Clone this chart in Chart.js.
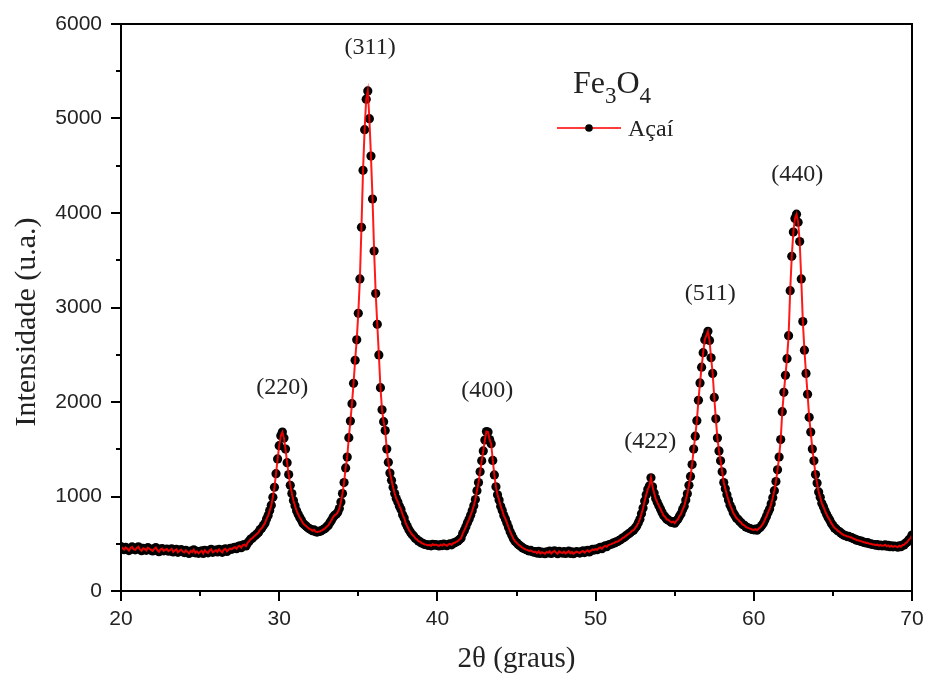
<!DOCTYPE html>
<html>
<head>
<meta charset="utf-8">
<script src="https://cdn.jsdelivr.net/npm/chart.js@4/dist/chart.umd.min.js"></script>
<style>
  body { margin: 0; background: #fff; }
  canvas { display: block; }
</style>
</head>
<body>
<canvas id="xrdChart" width="925" height="675"></canvas>
<script>
// 2theta scan: 20.0 .. 70.0, step 0.1 deg
const angleStart = 20;
const angleStep = 0.1;

// Intensity (u.a.), one row per degree (x.0 .. x.9)
const intensity = [
  470, 452, 438, 461, 447, 428, 455, 466, 442, 436, // 20
  455, 468, 440, 426, 452, 445, 430, 458, 447, 435, // 21
  424, 446, 460, 431, 416, 441, 450, 425, 437, 444, // 22
  421, 433, 447, 414, 429, 441, 409, 426, 438, 417, // 23
  407, 431, 414, 397, 423, 411, 436, 404, 419, 399, // 24
  413, 426, 397, 431, 414, 404, 429, 441, 409, 419, // 25
  433, 414, 441, 424, 409, 439, 446, 419, 436, 451, // 26
  441, 456, 463, 447, 471, 479, 459, 486, 491, 476, // 27
  509, 527, 549, 558, 577, 590, 606, 623, 650, 666, // 28
  692, 718, 762, 798, 852, 908, 992, 1098, 1242, 1398, // 29
  1538, 1642, 1682, 1618, 1502, 1358, 1232, 1118, 1032, 958, // 30
  902, 848, 812, 778, 752, 718, 702, 688, 672, 658, // 31
  652, 638, 647, 628, 624, 630, 633, 642, 653, 662, // 32
  681, 694, 722, 748, 779, 801, 812, 834, 872, 941, // 33
  1032, 1148, 1302, 1418, 1622, 1798, 1982, 2198, 2442, 2658, // 34
  2938, 3302, 3848, 4452, 4882, 5204, 5292, 4998, 4602, 4148, // 35
  3598, 3148, 2822, 2498, 2152, 1918, 1792, 1698, 1502, 1362, // 36
  1248, 1172, 1098, 1032, 978, 942, 898, 862, 808, 772, // 37
  718, 682, 648, 622, 598, 582, 558, 547, 528, 522, // 38
  508, 502, 493, 491, 483, 489, 478, 494, 485, 491, // 39
  484, 477, 491, 481, 496, 487, 479, 493, 499, 489, // 40
  506, 511, 521, 529, 546, 561, 608, 641, 679, 721, // 41
  758, 802, 848, 902, 968, 1062, 1148, 1262, 1378, 1482, // 42
  1598, 1688, 1682, 1602, 1558, 1382, 1228, 1102, 1018, 962, // 43
  898, 852, 798, 762, 718, 672, 628, 592, 556, 528, // 44
  512, 494, 482, 468, 456, 447, 438, 433, 424, 429, // 45
  419, 411, 416, 401, 419, 397, 411, 404, 394, 413, // 46
  404, 421, 397, 413, 426, 407, 394, 419, 409, 401, // 47
  416, 397, 409, 421, 399, 413, 394, 406, 417, 409, // 48
  401, 416, 424, 407, 421, 431, 414, 427, 441, 433, // 49
  444, 437, 453, 461, 447, 466, 477, 469, 486, 491, // 50
  496, 506, 509, 521, 524, 536, 544, 561, 567, 581, // 51
  594, 606, 619, 636, 644, 666, 689, 721, 759, 818, // 52
  878, 952, 1018, 1078, 1112, 1198, 1102, 1038, 978, 938, // 53
  902, 868, 832, 798, 782, 758, 752, 738, 726, 734, // 54
  718, 742, 758, 792, 818, 862, 898, 962, 1028, 1118, // 55
  1212, 1338, 1502, 1638, 1802, 2018, 2202, 2368, 2522, 2658, // 56
  2702, 2748, 2652, 2468, 2302, 2048, 1822, 1618, 1482, 1378, // 57
  1262, 1148, 1082, 1018, 962, 908, 872, 828, 802, 772, // 58
  758, 738, 722, 703, 696, 678, 671, 663, 658, 651, // 59
  647, 654, 643, 661, 671, 692, 718, 752, 788, 832, // 60
  868, 922, 988, 1062, 1158, 1282, 1418, 1602, 1898, 2102, // 61
  2282, 2458, 2702, 3178, 3542, 3798, 3942, 3988, 3902, 3698, // 62
  3302, 2852, 2548, 2302, 2082, 1838, 1682, 1502, 1378, 1232, // 63
  1142, 1048, 992, 928, 892, 848, 812, 778, 752, 718, // 64
  692, 668, 657, 638, 629, 613, 602, 590, 587, 576, // 65
  577, 568, 564, 553, 549, 538, 537, 528, 527, 518, // 66
  516, 508, 511, 500, 499, 493, 492, 484, 490, 480, // 67
  487, 478, 480, 489, 474, 483, 469, 479, 467, 476, // 68
  471, 464, 479, 469, 486, 488, 507, 518, 542, 558, // 69
  592                                                // 70
];

// Miller index labels and where they sit (data units)
const peakLabels = ['(220)', '(311)', '(400)', '(422)', '(511)', '(440)'];
const peakLabelX = [30.2, 35.75, 43.15, 53.45, 57.25, 62.75];
const peakLabelY = [2150, 5750, 2120, 1580, 3150, 4400];

// minor tick positions
const xMinor = [25, 35, 45, 55, 65];
const yMinor = [500, 1500, 2500, 3500, 4500, 5500];

const points = intensity.map((v, i) => ({ x: +(angleStart + i * angleStep).toFixed(1), y: v }));

const serif = '"Liberation Serif", "Times New Roman", serif';
const sans = '"Liberation Sans", Arial, sans-serif';

// Frame, minor ticks, y title, peak labels and the legend box
const decorations = {
  id: 'decorations',
  afterDraw(chart) {
    const { ctx, chartArea: a, scales: { x, y } } = chart;
    ctx.save();
    ctx.strokeStyle = '#000';
    ctx.lineWidth = 2;
    ctx.strokeRect(a.left, a.top, a.right - a.left, a.bottom - a.top);

    ctx.beginPath();
    xMinor.forEach(v => {
      const px = Math.round(x.getPixelForValue(v));
      ctx.moveTo(px, a.bottom);
      ctx.lineTo(px, a.bottom + 5);
    });
    yMinor.forEach(v => {
      const py = Math.round(y.getPixelForValue(v));
      ctx.moveTo(a.left, py);
      ctx.lineTo(a.left - 5, py);
    });
    ctx.stroke();

    // y axis title
    ctx.fillStyle = '#222';
    ctx.textAlign = 'center';
    ctx.textBaseline = 'middle';
    ctx.save();
    ctx.translate(27, a.top + 298);
    ctx.rotate(-Math.PI / 2);
    ctx.font = '30px ' + serif;
    ctx.fillText('Intensidade (u.a.)', 0, 0);
    ctx.restore();

    // peak labels
    ctx.font = '24px ' + serif;
    peakLabels.forEach((t, i) => {
      ctx.fillText(t, x.getPixelForValue(peakLabelX[i]), y.getPixelForValue(peakLabelY[i]));
    });

    // Fe3O4 heading
    ctx.textAlign = 'left';
    ctx.textBaseline = 'alphabetic';
    let cx = a.left + 452;
    const base = a.top + 69;
    [['Fe', 32, 0], ['3', 23, 10], ['O', 32, 0], ['4', 23, 10]].forEach(([t, size, drop]) => {
      ctx.font = size + 'px ' + serif;
      ctx.fillText(t, cx, base + drop);
      cx += ctx.measureText(t).width;
    });

    // legend entry
    const ly = a.top + 104;
    ctx.strokeStyle = '#ff3b3b';
    ctx.lineWidth = 2;
    ctx.beginPath();
    ctx.moveTo(a.left + 436, ly);
    ctx.lineTo(a.left + 500, ly);
    ctx.stroke();
    ctx.fillStyle = '#000';
    ctx.beginPath();
    ctx.arc(a.left + 468, ly, 3.8, 0, Math.PI * 2);
    ctx.fill();
    ctx.fillStyle = '#222';
    ctx.font = '24px ' + serif;
    ctx.fillText('Açaí', a.left + 507, ly + 8);
    ctx.restore();
  }
};

new Chart(document.getElementById('xrdChart'), {
  type: 'scatter',
  data: {
    datasets: [
      {
        label: 'Açaí line',
        data: points,
        showLine: true,
        borderColor: 'rgba(255,0,0,0.9)',
        borderWidth: 2,
        pointRadius: 0,
        tension: 0
      },
      {
        label: 'Açaí',
        data: points,
        showLine: false,
        pointRadius: 4.6,
        pointBorderWidth: 0,
        pointBackgroundColor: '#000'
      }
    ]
  },
  options: {
    responsive: false,
    animation: false,
    devicePixelRatio: 1,
    layout: { padding: { top: 24, right: 13, left: 0, bottom: 0 } },
    plugins: {
      legend: { display: false },
      tooltip: { enabled: false }
    },
    scales: {
      x: {
        type: 'linear',
        min: 20,
        max: 70,
        afterFit: s => { s.height = 84; s.paddingRight = 0; s.paddingLeft = 0; },
        ticks: { stepSize: 10, padding: 6, color: '#222', font: { family: sans, size: 21 } },
        grid: { drawOnChartArea: false, drawTicks: true, tickLength: 10, color: '#000', lineWidth: 2 },
        border: { display: true, color: '#000', width: 2 },
        title: {
          display: true,
          text: '2θ (graus)',
          color: '#222',
          font: { family: serif, size: 29, lineHeight: 1 },
          padding: { top: 0, bottom: 1 }
        }
      },
      y: {
        min: 0,
        max: 6000,
        afterFit: s => { s.width = 121; s.paddingTop = 0; s.paddingBottom = 0; },
        ticks: {
          stepSize: 1000,
          padding: 9,
          color: '#222',
          font: { family: sans, size: 21 },
          callback: v => String(v)
        },
        grid: { drawOnChartArea: false, drawTicks: true, tickLength: 10, color: '#000', lineWidth: 2 },
        border: { display: true, color: '#000', width: 2 }
      }
    }
  },
  plugins: [decorations]
});
</script>
</body>
</html>
